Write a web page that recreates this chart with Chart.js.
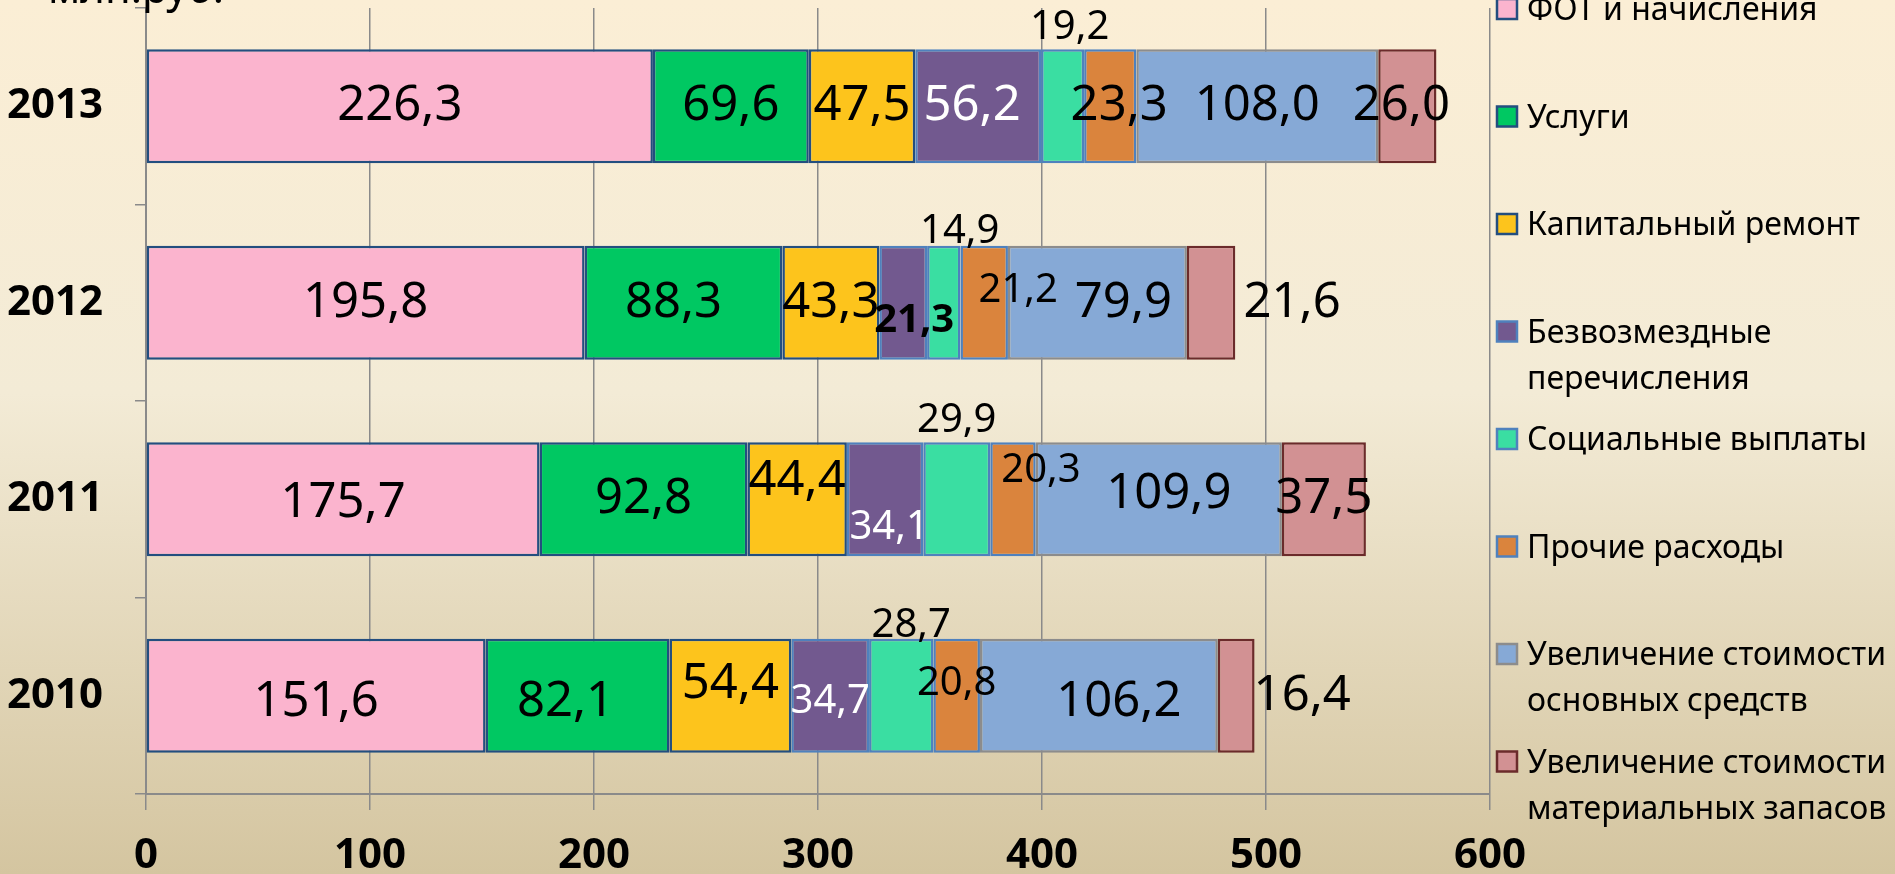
<!DOCTYPE html>
<html>
<head>
<meta charset="utf-8">
<script src="https://cdn.jsdelivr.net/npm/chart.js@4"></script>
<style>
  html, body { margin: 0; padding: 0; overflow: hidden; }
  body {
    width: 1895px; height: 874px;
    background: linear-gradient(to bottom, #FBEED5 0%, #F3EBD6 45%, #D4C5A0 100%);
  }
  #wrap { position: relative; width: 1895px; height: 874px; }
</style>
</head>
<body>
<div id="wrap"><canvas id="chart"></canvas></div>
<script>
const years = ['2013', '2012', '2011', '2010'];
const seriesNames = [
  'ФОТ и начисления',
  'Услуги',
  'Капитальный ремонт',
  'Безвозмездные\nперечисления',
  'Социальные выплаты',
  'Прочие расходы',
  'Увеличение стоимости\nосновных средств',
  'Увеличение стоимости\nматериальных запасов'
];
const fot      = [226.3, 195.8, 175.7, 151.6];
const uslugi   = [69.6, 88.3, 92.8, 82.1];
const kapRem   = [47.5, 43.3, 44.4, 54.4];
const bezvozm  = [56.2, 21.3, 34.1, 34.7];
const socVypl  = [19.2, 14.9, 29.9, 28.7];
const prochie  = [23.3, 21.2, 20.3, 20.8];
const osnSred  = [108.0, 79.9, 109.9, 106.2];
const matZap   = [26.0, 21.6, 37.5, 16.4];
const xTicks   = [0, 100, 200, 300, 400, 500, 600];
const unitLabel = 'млн.руб.';

const fills   = ['#FBB4CE', '#00C862', '#FDC41C', '#72598F', '#3ADEA2', '#DA843D', '#86A9D6', '#D29193'];
const borders = ['#234E7F', '#234E7F', '#234E7F', '#4F81BD', '#4F81BD', '#4F81BD', '#8C8C8C', '#6B2B2B'];

const allSeries = [fot, uslugi, kapRem, bezvozm, socVypl, prochie, osnSred, matZap];

// label tweaks: 'series-row' -> offsets from segment centre, size, colour
const tweaks = {
  '0-2': {dy: 4}, '0-3': {dy: 6},
  '1-1': {dx: -10}, '1-3': {dx: -12, dy: 6},
  '2-2': {dy: -18}, '2-3': {dy: -12},
  '3-0': {dx: -6, color: '#fff'},
  '3-1': {dx: 11, dy: 18, small: true, bold: true},
  '3-2': {dx: 4, dy: 28, small: true, color: '#fff'},
  '3-3': {dy: 6, small: true, color: '#fff'},
  '4-0': {dx: 7, dy: -79, small: true}, '4-1': {dx: 16, dy: -71, small: true},
  '4-2': {dy: -79, small: true}, '4-3': {dx: 10, dy: -70, small: true},
  '5-0': {dx: 9}, '5-1': {dx: 34, dy: -12, small: true},
  '5-2': {dx: 28, dy: -29, small: true}, '5-3': {dy: -12, small: true},
  '6-1': {dx: 26}, '6-2': {dx: 10, dy: -5}, '6-3': {dx: 20, dy: 6},
  '7-0': {dx: -6}, '7-1': {dx: 81}, '7-3': {dx: 66}
};

const FONT = '"Noto Sans", sans-serif';

const valueLabels = {
  id: 'valueLabels',
  afterDatasetsDraw(chart) {
    const ctx = chart.ctx;
    ctx.save();
    ctx.textAlign = 'center';
    ctx.textBaseline = 'middle';
    chart.data.datasets.forEach((ds, i) => {
      chart.getDatasetMeta(i).data.forEach((el, j) => {
        const t = tweaks[i + '-' + j] || {};
        const x = (el.x + el.base) / 2 + (t.dx || 0);
        const y = el.y + (t.dy || 0);
        const size = t.small ? 40 : 49;
        ctx.font = (t.bold ? 'bold ' : '') + size + 'px ' + FONT;
        ctx.fillStyle = t.color || '#000';
        ctx.fillText(ds.data[j].toFixed(1).replace('.', ','), x, y);
      });
    });
    ctx.restore();
  }
};

const sideLegend = {
  id: 'sideLegend',
  afterDraw(chart) {
    const ctx = chart.ctx;
    ctx.save();
    ctx.font = '32px ' + FONT;
    ctx.textBaseline = 'alphabetic';
    ctx.textAlign = 'left';
    chart.data.datasets.forEach((ds, i) => {
      const base = 20 + i * 107.5;
      ctx.fillStyle = ds.backgroundColor;
      ctx.fillRect(1497, base - 21, 20, 20);
      ctx.lineWidth = 2.5;
      ctx.strokeStyle = ds.borderColor;
      ctx.strokeRect(1497, base - 21, 20, 20);
      ctx.fillStyle = '#000';
      ds.label.split('\n').forEach((line, k) => ctx.fillText(line, 1527, base + k * 46));
    });
    // units caption, cut by the top edge as in the original
    ctx.font = '42px ' + FONT;
    ctx.fillText(unitLabel, 48, 3);
    ctx.restore();
  }
};

new Chart(document.getElementById('chart'), {
  type: 'bar',
  data: {
    labels: years,
    datasets: allSeries.map((arr, i) => ({
      label: seriesNames[i],
      data: arr,
      backgroundColor: fills[i],
      borderColor: borders[i],
      borderWidth: 2.5,
      borderSkipped: false,
      categoryPercentage: 1,
      barPercentage: 0.58
    }))
  },
  options: {
    indexAxis: 'y',
    responsive: true,
    maintainAspectRatio: false,
    animation: false,
    layout: { padding: { top: 8, right: 405, left: 0, bottom: 0 } },
    plugins: {
      legend: { display: false },
      tooltip: { enabled: false }
    },
    scales: {
      x: {
        stacked: true,
        min: 0,
        max: 600,
        afterBuildTicks: s => { s.ticks = xTicks.map(v => ({ value: v })); },
        afterFit: s => { s.height = 80; s.paddingLeft = 0; s.paddingRight = 0; },
        ticks: {
          color: '#000',
          padding: 21,
          font: { family: FONT, size: 42, weight: 'bold' }
        },
        grid: { color: '#8A8A8A', lineWidth: 1.5, tickLength: 16 },
        border: { color: '#8A8A8A', width: 2 }
      },
      y: {
        stacked: true,
        afterFit: s => { s.width = 146; s.paddingTop = 0; s.paddingBottom = 0; },
        ticks: {
          color: '#000',
          padding: 32,
          font: { family: FONT, size: 42, weight: 'bold' }
        },
        grid: { drawOnChartArea: false, offset: true, color: '#8A8A8A', lineWidth: 1.5, tickLength: 11 },
        border: { color: '#8A8A8A', width: 2 }
      }
    }
  },
  plugins: [valueLabels, sideLegend]
});
</script>
</body>
</html>
